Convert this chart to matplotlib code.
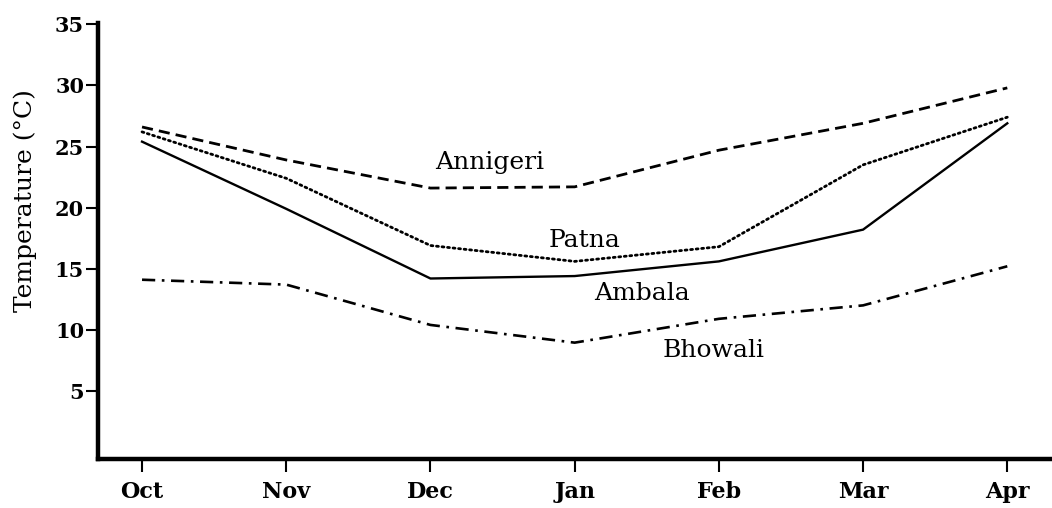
import matplotlib
matplotlib.use("Agg")
import matplotlib.pyplot as plt

months = ["Oct", "Nov", "Dec", "Jan", "Feb", "Mar", "Apr"]
y_ticks = [5, 10, 15, 20, 25, 30, 35]

annigeri = [26.6, 23.9, 21.6, 21.7, 24.7, 26.9, 29.8]
patna = [26.2, 22.4, 16.9, 15.6, 16.8, 23.5, 27.4]
ambala = [25.4, 19.9, 14.2, 14.4, 15.6, 18.2, 26.9]
bhowali = [14.1, 13.7, 10.4, 8.95, 10.9, 12.0, 15.2]

labels = {
    "Annigeri": (2.41, 23.7),
    "Patna": (3.07, 17.3),
    "Ambala": (3.47, 13.0),
    "Bhowali": (3.96, 8.3),
}

plt.rcParams["font.family"] = ["DejaVu Serif"]

fig = plt.figure(figsize=(10.52, 5.08), dpi=100)
ax = fig.add_axes([0.0932, 0.0965, 0.9068, 0.858])

x = list(range(len(months)))
ax.plot(x, annigeri, color="black", lw=2.0, ls=(0, (4, 2.2)))
ax.plot(x, patna, color="black", lw=2.0, ls=(0, (0.7, 1.3)), dash_capstyle="round")
ax.plot(x, ambala, color="black", lw=1.7, ls="-")
ax.plot(x, bhowali, color="black", lw=1.9, ls=(0, (5, 2.5, 1, 2.5)))

for name, (lx, ly) in labels.items():
    ax.text(lx, ly, name, ha="center", va="center", fontsize=18, color="black")

ax.set_xlim(-0.305, 6.31)
ax.set_ylim(-0.57, 35.1)
ax.set_xticks(x)
ax.set_xticklabels(months)
ax.set_yticks(y_ticks)
ax.set_yticklabels([str(v) for v in y_ticks])

for s in ("top", "right"):
    ax.spines[s].set_visible(False)
for s in ("left", "bottom"):
    ax.spines[s].set_linewidth(3.2)

ax.tick_params(axis="y", direction="out", length=9, width=1.5, pad=1, labelsize=15)
ax.tick_params(axis="x", direction="out", length=9, width=1.5, pad=7, labelsize=16)
for t in ax.get_yticklabels() + ax.get_xticklabels():
    t.set_fontweight("bold")

ax.set_ylabel("Temperature (°C)", fontsize=18)
ax.yaxis.set_label_coords(-0.064, 0.594)

fig.savefig("out.png", dpi=100)
